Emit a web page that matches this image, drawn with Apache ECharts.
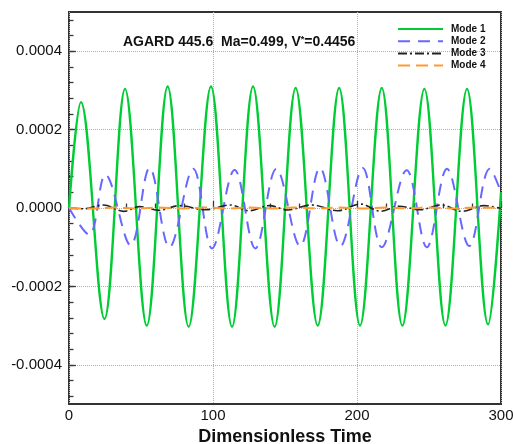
<!DOCTYPE html>
<html>
<head>
<meta charset="utf-8">
<script src="https://cdn.jsdelivr.net/npm/echarts@6/dist/echarts.min.js"></script>
<style>
html,body{margin:0;padding:0;background:#fff;}
#chart{width:513px;height:444px;}
</style>
</head>
<body>
<div id="chart"></div>
<script>
// ---- data (peaks / troughs): [dimensionless time, amplitude] ----
const seriesNames = ['Mode 1', 'Mode 2', 'Mode 3', 'Mode 4'];
const titleText = 'AGARD 445.6  Ma=0.499, V{s|*}=0.4456';
const xName = 'Dimensionless Time';

const mode1 = [
  [0, 0], [8.3, 0.00027], [24.6, -0.000283], [38.9, 0.000304], [54, -0.0003], [68.5, 0.00031],
  [83.1, -0.000303], [98.6, 0.00031], [113.2, -0.000303], [127.8, 0.00031], [142.8, -0.000303],
  [157.4, 0.000306], [172.7, -0.0003], [187.6, 0.000306], [202.1, -0.0003], [217.2, 0.000306],
  [231.5, -0.0003], [246.8, 0.000304], [261.4, -0.0003], [276.4, 0.000304], [291, -0.000297],
  [300, 0.00004]
];
const mode2 = [
  [0, 0], [13.9, -0.000068], [25.3, 0.000085], [42.8, -0.000095], [56, 0.000102],
  [69.8, -0.0001], [86.3, 0.0001], [99.3, -0.000103], [115, 0.000097], [129.4, -0.000103],
  [144, 0.0001], [160.5, -0.000097], [174.3, 0.000102], [188.5, -0.000097], [204, 0.000102],
  [217.2, -0.0001], [234.5, 0.0000965], [248.5, -0.0001], [262.5, 0.0001], [278, -0.000097],
  [292.2, 0.0001], [300, 0.00004]
];
const mode3 = [
  [0, 0], [10, -0.000002], [24, 0.0000077], [38, -0.0000085], [49, 0.0000035],
  [62.5, -0.000006], [76.5, 0.000006], [95, -0.0000045], [112, 0.0000077], [125, -0.000007],
  [139, 0.000006], [152, -0.000005], [168.5, 0.0000077], [186.5, -0.000007], [202.5, 0.00001],
  [216.5, -0.0000085], [229, 0.0000045], [243.5, -0.0000045], [258.5, 0.0000077],
  [273, -0.0000085], [288, 0.000006], [300, -0.000001]
];
const mode4 = [
  [0, 0], [14, -0.0000015], [31, 0.000001], [47, -0.000001], [62, 0.0000012], [79, -0.0000012],
  [95, 0.000001], [110, -0.0000015], [126, 0.000001], [141, -0.000001], [157, 0.0000015],
  [172, -0.000001], [188, 0.000001], [203, -0.0000012], [219, 0.0000012], [235, -0.000001],
  [250, 0.0000015], [266, -0.000001], [281, 0.000001], [300, 0]
];

const FONT = '"Liberation Sans", Arial, sans-serif';
const chart = echarts.init(document.getElementById('chart'), null, {renderer: 'canvas'});

const L = 69, R = 12, T = 12, B = 40;
const plotH = 444 - T - B;          // pixels for the full range -0.0005..0.0005
const pxPerUnit = plotH / 0.001;

const tickColor = '#3a3a3a';
const SMOOTH = 0.365;

const option = {
  animation: false,
  backgroundColor: '#fff',
  title: {
    text: titleText,
    left: 123, top: 35, padding: 0,
    textStyle: {
      fontFamily: FONT, fontSize: 14, fontWeight: 'bold', color: '#111',
      rich: { s: { fontFamily: FONT, fontSize: 9, fontWeight: 'bold', color: '#111', verticalAlign: 'top' } }
    }
  },
  legend: {
    orient: 'vertical', left: 397, top: 24, padding: 0,
    itemWidth: 45, itemHeight: 10, itemGap: 2.2,
    data: seriesNames,
    itemStyle: { opacity: 0, borderWidth: 0 },
    textStyle: { fontFamily: FONT, fontSize: 10, fontWeight: 'bold', color: '#111', lineHeight: 10, padding: [0, 0, 0, 3] }
  },
  grid: [
    { left: L, right: R, top: T, bottom: B, show: true, borderColor: '#333', borderWidth: 2,
      backgroundColor: 'transparent', outerBoundsMode: 'none', containLabel: false },
    { left: L, right: R, top: T + 0.00002 * pxPerUnit, bottom: B + 0.00002 * pxPerUnit, outerBoundsMode: 'none', containLabel: false },
    { left: L, right: R, top: T + 0.0001 * pxPerUnit, bottom: B + 0.0001 * pxPerUnit, outerBoundsMode: 'none', containLabel: false }
  ],
  xAxis: [
    {
      gridIndex: 0, type: 'value', min: 0, max: 300, interval: 100,
      axisLine: { show: false },
      axisTick: { show: true, inside: true, length: 7, lineStyle: { color: tickColor, width: 1.3 } },
      minorTick: { show: true, splitNumber: 5, length: 4.5, lineStyle: { color: tickColor, width: 1.3 } },
      axisLabel: { fontFamily: FONT, fontSize: 15, color: '#111', margin: 4 },
      splitLine: { show: true, lineStyle: { type: 'dotted', color: '#b0b0b0', width: 1 } },
      name: xName, nameLocation: 'middle', nameGap: 11,
      nameTextStyle: { fontFamily: FONT, fontSize: 18, fontWeight: 'bold', color: '#111' }
    },
    { gridIndex: 1, type: 'value', min: 0, max: 300, show: false },
    { gridIndex: 2, type: 'value', min: 0, max: 300, show: false }
  ],
  yAxis: [
    { gridIndex: 0, type: 'value', min: -0.0005, max: 0.0005, show: false },
    {
      gridIndex: 1, type: 'value', min: -0.00048, max: 0.00048, interval: 0.00004,
      axisLine: { show: false },
      axisTick: { show: true, inside: true, length: 4.5, lineStyle: { color: tickColor, width: 1.3 } },
      axisLabel: { show: false },
      splitLine: { show: false }
    },
    {
      gridIndex: 2, type: 'value', min: -0.0004, max: 0.0004, interval: 0.0002,
      axisLine: { show: false },
      axisTick: { show: true, inside: true, length: 7, lineStyle: { color: tickColor, width: 1.3 } },
      axisLabel: { fontFamily: FONT, fontSize: 15, color: '#111', margin: 7,
        formatter: v => (Math.abs(v) < 1e-12 ? 0 : v).toFixed(4) },
      splitLine: { show: true, lineStyle: { type: 'dotted', color: '#b0b0b0', width: 1 } }
    }
  ],
  series: [
    { name: seriesNames[0], type: 'line', xAxisIndex: 0, yAxisIndex: 0, data: mode1, smooth: SMOOTH,
      symbol: 'none', lineStyle: { color: '#00cc33', width: 2.4 }, itemStyle: { color: '#00cc33' } },
    { name: seriesNames[1], type: 'line', xAxisIndex: 0, yAxisIndex: 0, data: mode2, smooth: SMOOTH,
      symbol: 'none', lineStyle: { color: '#6868ff', width: 2, type: [12, 8] }, itemStyle: { color: '#6868ff' } },
    { name: seriesNames[2], type: 'line', xAxisIndex: 0, yAxisIndex: 0, data: mode3, smooth: SMOOTH,
      symbol: 'none', lineStyle: { color: '#222', width: 1.6, type: [9, 3, 2, 3] }, itemStyle: { color: '#222' } },
    { name: seriesNames[3], type: 'line', xAxisIndex: 0, yAxisIndex: 0, data: mode4, smooth: SMOOTH,
      symbol: 'none', lineStyle: { color: '#ff9a33', width: 2, type: [12, 6] }, itemStyle: { color: '#ff9a33' } }
  ]
};
chart.setOption(option);
</script>
</body>
</html>
